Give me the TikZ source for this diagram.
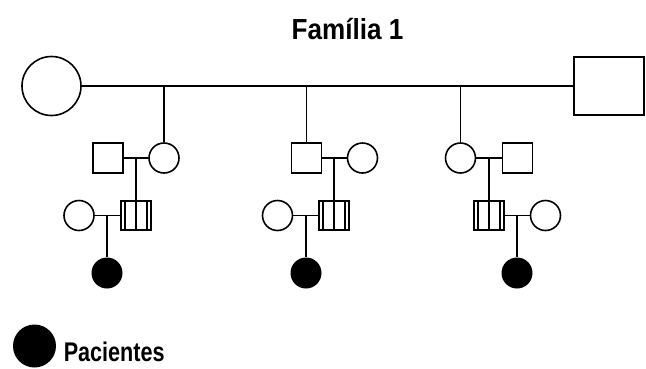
\documentclass[tikz,border=0pt]{standalone}
\usepackage{fontspec}
\newfontfamily\titlefont[FakeStretch=0.9]{Liberation Sans}
\newfontfamily\legfont[FakeStretch=0.8]{Liberation Sans}
\begin{document}
\begin{tikzpicture}[x=1pt,y=-1pt,
  line width=1.6pt,
  fem/.style={draw,circle,minimum size=#1,inner sep=0pt},
  fem/.default=30pt,
  mal/.style={draw,rectangle,minimum width=30pt,minimum height=30pt,inner sep=0pt},
  aff/.style={fill=black,circle,minimum size=31pt,inner sep=0pt},
  carrier/.style={draw,rectangle,minimum width=30pt,minimum height=29pt,inner sep=0pt,
    path picture={
      \draw[line width=1.3pt] ([xshift=4pt]path picture bounding box.north west) -- ([xshift=4pt]path picture bounding box.south west);
      \draw[line width=1.3pt] ([xshift=-4pt]path picture bounding box.north east) -- ([xshift=-4pt]path picture bounding box.south east);
      \draw[line width=1.3pt] (path picture bounding box.north) -- (path picture bounding box.south);
    }},
  link/.style={line width=1.5pt}
]
\useasboundingbox (0,0) rectangle (646,368);
\node[font=\titlefont\bfseries\fontsize{29}{30}\selectfont,anchor=base] (title) at (347.5,39) {Família 1};
% Generation I
\node[fem=59pt] (gf) at (51.5,86) {};
\node[mal,minimum width=70pt,minimum height=58pt] (gm) at (609,86) {};
\draw[link] (gf) -- (gm);
% Family 1
\node[mal] (m1) at (108,158) {};
\node[fem] (f1) at (164,158) {};
\node[carrier] (c1) at (136,215.5) {};
\node[fem] (w1) at (79,215.5) {};
\node[aff] (p1) at (107,273) {};
\coordinate (d1) at (164,86);
\draw[link] (d1) -- (f1);
\draw[link] (m1) -- (f1);
\coordinate (s1) at (136,158);
\draw[link] (s1) -- (c1);
\draw[link] (w1) -- (c1);
\coordinate (t1) at (107,215.5);
\draw[link] (t1) -- (p1);
% Family 2
\node[mal] (m2) at (306.5,158) {};
\node[fem] (f2) at (362.5,158) {};
\node[carrier] (c2) at (334,215.5) {};
\node[fem] (w2) at (277.5,215.5) {};
\node[aff] (p2) at (306,273) {};
\coordinate (d2) at (306.5,86);
\draw[link] (d2) -- (m2);
\draw[link] (m2) -- (f2);
\coordinate (s2) at (334,158);
\draw[link] (s2) -- (c2);
\draw[link] (w2) -- (c2);
\coordinate (t2) at (306,215.5);
\draw[link] (t2) -- (p2);
% Family 3
\node[fem] (f3) at (460.5,158) {};
\node[mal] (m3) at (517.5,158) {};
\node[carrier] (c3) at (489,215.5) {};
\node[fem] (w3) at (545.5,215.5) {};
\node[aff] (p3) at (517,273) {};
\coordinate (d3) at (460.5,86);
\draw[link] (d3) -- (f3);
\draw[link] (f3) -- (m3);
\coordinate (s3) at (489,158);
\draw[link] (s3) -- (c3);
\draw[link] (c3) -- (w3);
\coordinate (t3) at (517,215.5);
\draw[link] (t3) -- (p3);
% Legend
\node[aff,minimum size=43pt] (leg) at (34.5,346) {};
\node[font=\legfont\bfseries\fontsize{27}{30}\selectfont,anchor=base west,inner sep=0pt] (legtext) at (63,361) {Pacientes};
\end{tikzpicture}
\end{document}
